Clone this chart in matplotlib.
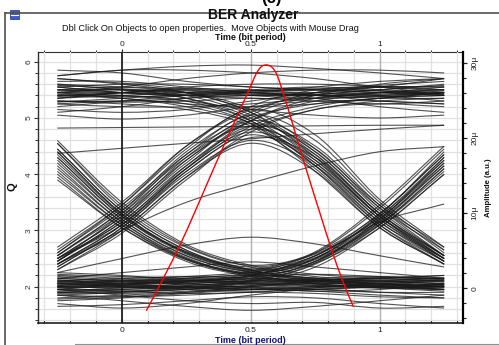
import numpy as np
import matplotlib
matplotlib.use("Agg")
import matplotlib.pyplot as plt
from matplotlib.path import Path
from matplotlib.patches import PathPatch, Rectangle
from matplotlib.lines import Line2D
from matplotlib.ticker import MultipleLocator

plt.rcParams['font.family'] = ['Liberation Sans', 'DejaVu Sans']

# ---------------------------------------------------------------- data
# sample instants (bit periods) at which every eye trace is given
knot_t = [-0.25, 0.0, 0.25, 0.5, 0.75, 1.0, 1.25]

# steady "1" traces
ones_traces = [
    [5.85, 5.80, 5.65, 5.55, 5.50, 5.45, 5.45],
    [5.75, 5.85, 5.85, 5.80, 5.70, 5.55, 5.50],
    [5.45, 5.55, 5.70, 5.80, 5.85, 5.85, 5.80],
    [5.75, 5.85, 5.92, 5.94, 5.88, 5.80, 5.70],
    [5.60, 5.50, 5.40, 5.40, 5.45, 5.55, 5.70],
    [5.45, 5.45, 5.40, 5.35, 5.35, 5.45, 5.50],
    [5.35, 5.40, 5.45, 5.45, 5.40, 5.35, 5.35],
    [5.50, 5.45, 5.45, 5.50, 5.55, 5.50, 5.45],
    [5.30, 5.30, 5.35, 5.40, 5.40, 5.30, 5.25],
    [5.20, 5.30, 5.40, 5.45, 5.40, 5.40, 5.45],
    [5.40, 5.35, 5.25, 5.20, 5.25, 5.35, 5.45],
    [5.55, 5.60, 5.60, 5.55, 5.50, 5.45, 5.40],
    [5.15, 5.10, 5.15, 5.30, 5.45, 5.55, 5.55],
    [5.05, 4.98, 5.05, 5.20, 5.30, 5.30, 5.25],
    [5.45, 5.40, 5.30, 5.15, 5.05, 5.00, 5.05],
    [5.65, 5.65, 5.55, 5.45, 5.40, 5.45, 5.55],
    [5.35, 5.45, 5.55, 5.60, 5.60, 5.55, 5.40],
    [5.25, 5.20, 5.20, 5.25, 5.35, 5.45, 5.50],
    [5.55, 5.45, 5.40, 5.45, 5.55, 5.65, 5.70],
    [5.40, 5.45, 5.50, 5.45, 5.35, 5.20, 5.10],
    [5.10, 5.20, 5.35, 5.45, 5.45, 5.40, 5.30],
    [5.48, 5.50, 5.48, 5.42, 5.40, 5.42, 5.48],
    [5.30, 5.28, 5.30, 5.35, 5.30, 5.25, 5.30],
    [5.42, 5.38, 5.40, 5.48, 5.52, 5.48, 5.42],
    [5.58, 5.52, 5.45, 5.40, 5.42, 5.50, 5.58],
    [5.38, 5.45, 5.52, 5.50, 5.42, 5.38, 5.40],
    [5.50, 5.55, 5.50, 5.40, 5.35, 5.38, 5.45],
    [5.28, 5.35, 5.42, 5.48, 5.50, 5.48, 5.42],
    [5.70, 5.62, 5.52, 5.48, 5.50, 5.58, 5.65],
]

# steady "0" traces
zeros_traces = [
    [1.70, 1.62, 1.70, 1.85, 1.95, 1.90, 1.85],
    [1.85, 1.75, 1.65, 1.58, 1.65, 1.75, 1.85],
    [1.95, 1.85, 1.75, 1.70, 1.72, 1.62, 1.65],
    [2.10, 2.05, 2.00, 1.95, 2.00, 2.05, 2.10],
    [2.00, 2.05, 2.10, 2.12, 2.10, 2.05, 2.00],
    [2.15, 2.10, 2.05, 2.05, 2.10, 2.15, 2.20],
    [1.90, 1.95, 2.00, 2.00, 1.95, 1.90, 1.90],
    [2.05, 2.00, 1.95, 1.92, 1.95, 2.00, 2.05],
    [2.20, 2.15, 2.10, 2.05, 2.05, 2.10, 2.15],
    [1.80, 1.85, 1.90, 1.95, 1.92, 1.85, 1.80],
    [2.00, 1.98, 2.02, 2.08, 2.10, 2.08, 2.02],
    [1.95, 2.05, 2.15, 2.20, 2.15, 2.05, 1.95],
    [2.10, 2.15, 2.18, 2.15, 2.10, 2.00, 1.95],
    [1.88, 1.90, 1.95, 2.05, 2.12, 2.15, 2.15],
    [2.25, 2.20, 2.12, 2.05, 2.00, 1.98, 2.00],
    [1.75, 1.80, 1.88, 1.95, 2.00, 2.02, 2.00],
    [2.02, 2.08, 2.05, 1.98, 1.92, 1.95, 2.05],
    [1.98, 1.92, 1.88, 1.90, 1.98, 2.08, 2.12],
    [2.08, 2.02, 1.98, 2.02, 2.08, 2.12, 2.10],
    [1.92, 1.98, 2.05, 2.10, 2.05, 1.98, 1.92],
    [2.15, 2.25, 2.35, 2.44, 2.35, 2.25, 2.15],
    [1.65, 1.68, 1.75, 1.82, 1.80, 1.70, 1.62],
    [2.12, 2.08, 2.10, 2.18, 2.22, 2.18, 2.12],
    [1.85, 1.82, 1.85, 1.90, 1.88, 1.82, 1.80],
    [2.05, 2.10, 2.12, 2.08, 2.02, 1.98, 2.00],
    [1.95, 1.92, 1.95, 2.02, 2.08, 2.10, 2.05],
    [2.18, 2.12, 2.08, 2.10, 2.15, 2.18, 2.15],
    [1.98, 2.02, 2.08, 2.15, 2.12, 2.05, 2.00],
    [2.12, 2.05, 1.98, 1.95, 1.98, 2.05, 2.12],
    [1.90, 1.88, 1.92, 1.98, 2.02, 2.00, 1.95],
    [2.22, 2.18, 2.15, 2.12, 2.12, 2.15, 2.20],
    [2.00, 2.02, 2.00, 1.96, 1.96, 2.00, 2.04],
    [1.78, 1.82, 1.90, 2.00, 2.05, 2.05, 2.02],
    [2.06, 2.00, 1.96, 2.00, 2.10, 2.16, 2.14],
]

# isolated "1" between zeros
pulse_traces = [
    [2.45, 3.15, 4.10, 4.75, 4.25, 3.25, 2.50],
    [2.35, 3.05, 4.00, 4.60, 4.15, 3.15, 2.45],
    [2.55, 3.30, 4.25, 4.90, 4.40, 3.35, 2.55],
    [2.50, 3.25, 4.20, 4.95, 4.50, 3.45, 2.60],
    [2.40, 3.00, 3.95, 4.55, 4.05, 3.05, 2.40],
    [2.60, 3.40, 4.35, 5.05, 4.60, 3.50, 2.65],
    [2.45, 3.20, 4.15, 4.80, 4.35, 3.30, 2.50],
    [2.65, 3.45, 4.45, 5.15, 4.70, 3.55, 2.70],
    [2.30, 2.95, 3.90, 4.65, 4.30, 3.30, 2.55],
    [2.50, 3.10, 4.05, 4.70, 4.20, 3.20, 2.45],
    [2.55, 3.35, 4.30, 4.85, 4.30, 3.25, 2.45],
    [2.40, 3.10, 4.10, 4.85, 4.45, 3.40, 2.55],
]

# isolated "0" between ones
dip_traces = [
    [4.20, 3.20, 2.55, 2.28, 2.50, 3.15, 4.15],
    [4.40, 3.30, 2.60, 2.32, 2.55, 3.25, 4.25],
    [4.00, 3.10, 2.50, 2.25, 2.45, 3.10, 4.05],
    [4.55, 3.40, 2.70, 2.38, 2.60, 3.30, 4.35],
    [4.10, 3.15, 2.52, 2.22, 2.42, 3.05, 4.00],
    [4.30, 3.25, 2.62, 2.35, 2.58, 3.22, 4.20],
    [3.90, 3.05, 2.48, 2.24, 2.48, 3.12, 4.10],
    [4.45, 3.35, 2.65, 2.30, 2.52, 3.20, 4.30],
]

# 0 -> 1 -> 1
rise_first_traces = [
    [2.45, 3.20, 4.25, 4.95, 5.30, 5.40, 5.45],
    [2.35, 3.05, 4.05, 4.80, 5.15, 5.30, 5.35],
    [2.55, 3.35, 4.40, 5.10, 5.45, 5.55, 5.55],
    [2.50, 3.25, 4.30, 5.05, 5.40, 5.60, 5.70],
    [2.40, 3.10, 4.10, 4.85, 5.20, 5.35, 5.40],
    [2.60, 3.45, 4.50, 5.20, 5.50, 5.55, 5.50],
    [2.30, 3.00, 3.95, 4.75, 5.15, 5.25, 5.20],
    [2.50, 3.15, 4.15, 4.95, 5.35, 5.45, 5.40],
    [2.45, 3.30, 4.35, 5.00, 5.25, 5.35, 5.45],
    [2.70, 3.50, 4.50, 5.15, 5.40, 5.50, 5.60],
]

# 1 -> 1 -> 0
fall_last_traces = [
    [5.40, 5.40, 5.30, 4.95, 4.20, 3.20, 2.50],
    [5.50, 5.50, 5.40, 5.05, 4.35, 3.30, 2.55],
    [5.30, 5.25, 5.15, 4.85, 4.10, 3.10, 2.45],
    [5.60, 5.55, 5.45, 5.10, 4.40, 3.40, 2.65],
    [5.45, 5.35, 5.20, 4.90, 4.15, 3.15, 2.50],
    [5.35, 5.45, 5.45, 5.15, 4.45, 3.45, 2.70],
    [5.25, 5.30, 5.25, 4.90, 4.05, 3.05, 2.40],
    [5.55, 5.45, 5.35, 5.00, 4.25, 3.25, 2.55],
    [5.70, 5.60, 5.45, 5.10, 4.30, 3.25, 2.50],
    [5.45, 5.50, 5.35, 4.95, 4.15, 3.10, 2.40],
]

# 0 -> 0 -> 1
rise_last_traces = [
    [2.00, 2.00, 2.05, 2.15, 2.45, 3.20, 4.25],
    [2.10, 2.05, 2.10, 2.20, 2.55, 3.30, 4.35],
    [1.95, 1.95, 2.00, 2.10, 2.40, 3.10, 4.10],
    [2.05, 2.10, 2.15, 2.25, 2.60, 3.40, 4.45],
    [1.90, 1.92, 1.98, 2.08, 2.35, 3.05, 4.00],
    [2.15, 2.10, 2.12, 2.22, 2.50, 3.25, 4.30],
    [2.00, 1.98, 2.02, 2.12, 2.45, 3.15, 4.20],
    [2.08, 2.12, 2.18, 2.28, 2.62, 3.45, 4.50],
    [1.85, 1.90, 1.98, 2.10, 2.42, 3.18, 4.15],
    [2.02, 2.05, 2.08, 2.18, 2.50, 3.28, 4.40],
]

# 1 -> 0 -> 0
fall_first_traces = [
    [4.25, 3.20, 2.55, 2.25, 2.12, 2.05, 2.00],
    [4.40, 3.30, 2.62, 2.30, 2.15, 2.10, 2.08],
    [4.05, 3.10, 2.48, 2.20, 2.08, 2.02, 2.00],
    [4.55, 3.45, 2.72, 2.35, 2.18, 2.12, 2.15],
    [4.15, 3.15, 2.50, 2.22, 2.05, 1.98, 1.95],
    [4.35, 3.28, 2.60, 2.28, 2.15, 2.10, 2.05],
    [3.95, 3.05, 2.45, 2.18, 2.05, 2.00, 1.95],
    [4.60, 3.50, 2.75, 2.38, 2.22, 2.15, 2.10],
    [4.30, 3.25, 2.58, 2.26, 2.10, 2.02, 1.98],
    [4.45, 3.35, 2.65, 2.30, 2.12, 2.05, 2.05],
]

# slowly drifting traces
slow_traces = [
    [4.82, 4.83, 4.84, 4.85, 4.86, 4.87, 4.87],
    [4.37, 4.46, 4.55, 4.63, 4.72, 4.80, 4.87],
    [2.40, 3.00, 3.50, 3.84, 4.15, 4.40, 4.49],
    [2.05, 2.05, 2.10, 2.20, 2.55, 3.15, 3.47],
    [2.25, 2.50, 2.74, 2.88, 2.76, 2.55, 2.35],
]

# decision curve (right axis, amplitude in micro units)
curve_t = [0.095, 0.162, 0.226, 0.280, 0.333, 0.388, 0.446, 0.500, 0.522,
           0.542, 0.562, 0.582, 0.600, 0.617, 0.650, 0.685, 0.727, 0.770,
           0.812, 0.855, 0.898]
curve_amp = [-2.98, 1.40, 5.80, 9.90, 14.10, 18.40, 22.80, 26.90, 28.60,
             29.50, 29.70, 29.40, 28.50, 26.90, 23.30, 19.20, 14.50, 9.80,
             5.30, 1.10, -2.45]

time_ticks = [0, 0.5, 1]
time_labels = ['0', '0.5', '1']
q_ticks = [2, 3, 4, 5, 6]
amp_ticks = [0, 10, 20, 30]
amp_labels = ['0', '10\u03bc', '20\u03bc', '30\u03bc']

# ---------------------------------------------------------------- layout
W, H = 499, 345
fig = plt.figure(figsize=(W / 100, H / 100), dpi=100)
fig.patch.set_facecolor('white')


def fx(px):
    return px / W


def fy(py):
    return 1 - py / H


ax = fig.add_axes([fx(38), fy(323.3), fx(463) - fx(38), fy(51.7) - fy(323.3)])
ax.set_xlim(-0.325, 1.323)
ax.set_ylim(1.349, 6.178)
ax.set_axisbelow(True)


def smooth_path(ts, vs):
    """Catmull-Rom curve through the knots, as cubic Bezier segments."""
    pts = np.column_stack([ts, vs]).astype(float)
    ext = np.vstack([2 * pts[0] - pts[1], pts, 2 * pts[-1] - pts[-2]])
    verts = [pts[0]]
    codes = [Path.MOVETO]
    for i in range(len(pts) - 1):
        p0, p1, p2, p3 = ext[i], ext[i + 1], ext[i + 2], ext[i + 3]
        verts += [p1 + (p2 - p0) / 6.0, p2 - (p3 - p1) / 6.0, p2]
        codes += [Path.CURVE4] * 3
    return Path(verts, codes)


# grid
ax.xaxis.set_minor_locator(MultipleLocator(0.1))
ax.yaxis.set_minor_locator(MultipleLocator(0.2))
ax.set_xticks(time_ticks)
ax.set_yticks(q_ticks)
ax.grid(which='both', color='#e1e1e1', lw=0.9)
ax.axvline(0.5, color='#b4b4b4', lw=1.0, zorder=1)
ax.axvline(1.0, color='#b4b4b4', lw=1.0, zorder=1)
ax.axvline(0.0, color='#202020', lw=1.3, zorder=1)

groups = [ones_traces, zeros_traces, pulse_traces, dip_traces,
          rise_first_traces, fall_last_traces, rise_last_traces,
          fall_first_traces, slow_traces]
for grp in groups:
    for vals in grp:
        ax.add_patch(PathPatch(smooth_path(knot_t, vals), fill=False,
                               edgecolor='#1a1a1a', lw=0.8, alpha=0.75,
                               zorder=2))

# axes styling
for side in ('top', 'right'):
    ax.spines[side].set_visible(False)
ax.spines['left'].set_color('#303030')
ax.spines['left'].set_linewidth(1.0)
ax.spines['bottom'].set_linestyle((0, (1, 1)))
ax.spines['bottom'].set_linewidth(1.2)
ax.spines['bottom'].set_color('#202020')

ax.set_xticklabels(time_labels)
ax.tick_params(axis='x', which='major', direction='in', length=3,
               width=0.8, pad=2.5, labelsize=6, colors='#202020')
ax.tick_params(axis='x', which='minor', direction='in', length=2,
               width=0.8, colors='#202020')
ax.tick_params(axis='y', which='major', direction='out', length=3,
               width=0.8, pad=1, labelsize=6, colors='#303030')
ax.tick_params(axis='y', which='minor', direction='out', length=2,
               width=0.7, colors='#303030')
for lab in ax.get_yticklabels():
    lab.set_rotation(90)
    lab.set_va('center')
    lab.set_ha('right')

# top time axis
top = ax.secondary_xaxis('top')
top.set_xticks(time_ticks)
top.set_xticklabels(time_labels)
top.xaxis.set_minor_locator(MultipleLocator(0.1))
top.tick_params(which='major', direction='out', length=2.4, width=0.8,
                pad=0.3, labelsize=6, colors='#202020')
top.tick_params(which='minor', direction='out', length=1.8, width=0.7,
                colors='#202020')
top.spines['top'].set_linewidth(0.8)
top.spines['top'].set_color('#303030')

# right amplitude axis with the decision curve
ax2 = ax.twinx()
ax2.set_ylim(-4.65, 31.46)
ax2.add_patch(PathPatch(smooth_path(curve_t, curve_amp), fill=False,
                        edgecolor='#ff0000', lw=1.0, zorder=5))
for side in ('left', 'top', 'bottom'):
    ax2.spines[side].set_visible(False)
ax2.spines['right'].set_linewidth(1.6)
ax2.spines['right'].set_color('black')
ax2.set_yticks(amp_ticks)
ax2.set_yticklabels(amp_labels)
ax2.yaxis.set_minor_locator(MultipleLocator(2))
ax2.tick_params(axis='y', which='major', direction='out', length=3,
                width=0.9, pad=3, labelsize=6, colors='#202020')
ax2.tick_params(axis='y', which='minor', direction='out', length=2,
                width=0.8, colors='#202020')
for lab in ax2.get_yticklabels():
    lab.set_rotation(90)
    lab.set_va('center')
    lab.set_ha('left')

# texts
fig.text(fx(253), fy(15), 'BER Analyzer', ha='center', va='center',
         fontsize=10, fontweight='bold', color='#111111')
fig.text(fx(210), fy(28.5), 'Dbl Click On Objects to open properties.  '
         'Move Objects with Mouse Drag', ha='center', va='center',
         fontsize=6.6, color='#111111')
fig.text(fx(250), fy(37), 'Time (bit period)', ha='center', va='center',
         fontsize=6.5, fontweight='bold', color='#111111')
fig.text(fx(250), fy(340.5), 'Time (bit period)', ha='center', va='center',
         fontsize=6.5, fontweight='bold', color='#14147a')
fig.text(fx(12), fy(187), 'Q', ha='center', va='center', rotation=90,
         fontsize=8, fontweight='bold', color='#111111')
fig.text(fx(489), fy(188), 'Amplitude (a.u.)', ha='center', va='center',
         rotation=90, fontsize=5.6, fontweight='bold', color='#111111')
fig.text(fx(271), fy(3), '(c)', ha='center', va='baseline', fontsize=12,
         fontweight='bold', color='black')

# window frame and its icon
fig.add_artist(Line2D([fx(5), fx(5)], [fy(13), fy(345)], color='#505050',
                      lw=1.2, transform=fig.transFigure))
fig.add_artist(Line2D([fx(5), fx(499)], [fy(13), fy(13)], color='#505050',
                      lw=1.2, transform=fig.transFigure))
fig.add_artist(Line2D([fx(75), fx(499)], [fy(344), fy(344)], color='#909090',
                      lw=0.8, transform=fig.transFigure))
fig.add_artist(Rectangle((fx(9.5), fy(18.5)), fx(9), fy(10) - fy(18.5),
                         facecolor='#3a5fc8', edgecolor='#20306a', lw=0.5,
                         transform=fig.transFigure))
fig.add_artist(Line2D([fx(10.5), fx(17.5)], [fy(14.5), fy(14.5)],
                      color='white', lw=0.8, transform=fig.transFigure))

fig.savefig('out.png', dpi=100)
